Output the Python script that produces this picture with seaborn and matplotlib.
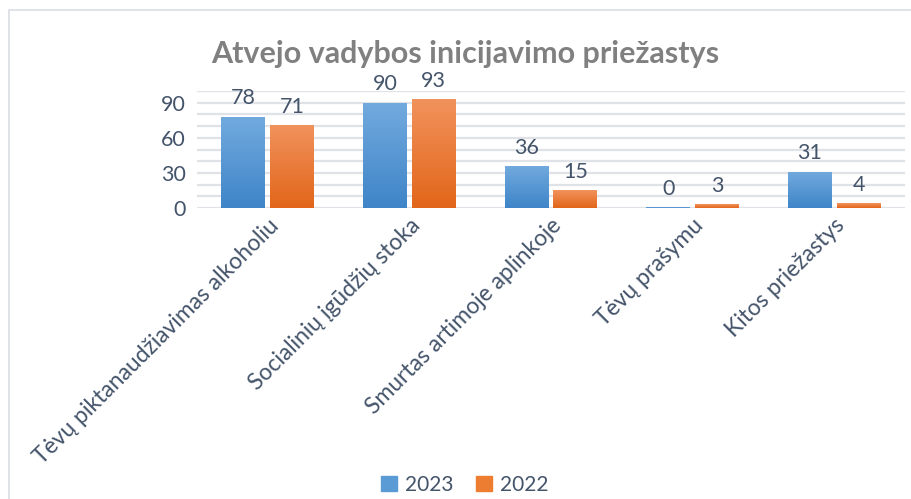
import numpy as np
import pandas as pd
import seaborn as sns
import matplotlib.pyplot as plt
from matplotlib.patches import Rectangle
from matplotlib.colors import LinearSegmentedColormap

# Chart data
categories = ['Tėvų piktanaudžiavimas alkoholiu', 'Socialinių įgūdžių stoka',
              'Smurtas artimoje aplinkoje', 'Tėvų prašymu', 'Kitos priežastys']
years = ['2023', '2022']
values_2023 = [78, 90, 36, 0, 31]
values_2022 = [71, 93, 15, 3, 4]

df = pd.DataFrame({
    'category': categories * 2,
    'year': [years[0]] * len(categories) + [years[1]] * len(categories),
    'value': values_2023 + values_2022,
})

sns.set_style('white')
plt.rcParams['font.family'] = ['Lato', 'DejaVu Sans']

text_col = '#44546a'
palette = {'2023': '#5b9bd5', '2022': '#ed7d31'}
grads = {'2023': ('#72aade', '#3f85c8'), '2022': ('#f1925c', '#e2661a')}

fig = plt.figure(figsize=(9.12, 4.99), dpi=100)
ax = fig.add_axes([197 / 912, 1 - 208 / 499, 708 / 912, 117 / 499])

sns.barplot(data=df, x='category', y='value', hue='year', hue_order=years,
            order=categories, palette=palette, width=0.69, gap=0.1,
            legend=True, ax=ax)

# gradient fill on each bar
for cont, yr in zip(ax.containers, years):
    cmap = LinearSegmentedColormap.from_list(yr, [grads[yr][1], grads[yr][0]])
    for bar in cont:
        x0, y0 = bar.get_x(), bar.get_y()
        w, h = bar.get_width(), bar.get_height()
        if h <= 0:
            bar.set_height(0.8)
            h = 0.8
        bar.set_edgecolor('none')
        bar.set_zorder(2)
        im = ax.imshow(np.linspace(0, 1, 64).reshape(-1, 1), cmap=cmap,
                       extent=[x0, x0 + w, y0, y0 + h], origin='lower',
                       aspect='auto', zorder=2.1)
        im.set_clip_path(bar)
    vals = values_2023 if yr == '2023' else values_2022
    ax.bar_label(cont, labels=[str(v) for v in vals],
                 padding=6, fontsize=15.5, color=text_col)
ax.set_aspect('auto')
ax.set_xlim(-0.5, 4.5)
ax.set_ylim(0, 100)

# gridlines every 10
for yv in range(0, 101, 10):
    ax.axhline(yv, color='#dfe2e7', lw=1.6, zorder=0)
ax.set_yticks([0, 30, 60, 90])
ax.tick_params(axis='y', labelsize=15.5, labelcolor=text_col, length=0, pad=8)
ax.tick_params(axis='x', labelsize=16.5, labelcolor=text_col, length=0, pad=5)
plt.setp(ax.get_xticklabels(), rotation=45, ha='right', rotation_mode='anchor')
for s in ax.spines.values():
    s.set_visible(False)
ax.set_xlabel('')
ax.set_ylabel('')

ax.legend_.remove()
handles = [Rectangle((0, 0), 1, 1, color=palette[y]) for y in years]
fig.legend(handles, years, loc='center', bbox_to_anchor=(465 / 912, 1 - 485 / 499),
           ncol=2, frameon=False, fontsize=15, labelcolor=text_col,
           handlelength=0.75, handleheight=0.75, handletextpad=0.4, columnspacing=1.1)

fig.text(465 / 912, 1 - 54 / 499, 'Atvejo vadybos inicijavimo priežastys',
         ha='center', va='center', fontsize=22, fontweight='bold', color='#808080')

# outer chart frame
fig.patches.append(Rectangle((9 / 912, -0.05), 1.1, 1 - 10 / 499 + 0.05,
                             transform=fig.transFigure, fill=False,
                             edgecolor='#d9dde3', lw=1.2))

fig.savefig('out.png', dpi=100)
